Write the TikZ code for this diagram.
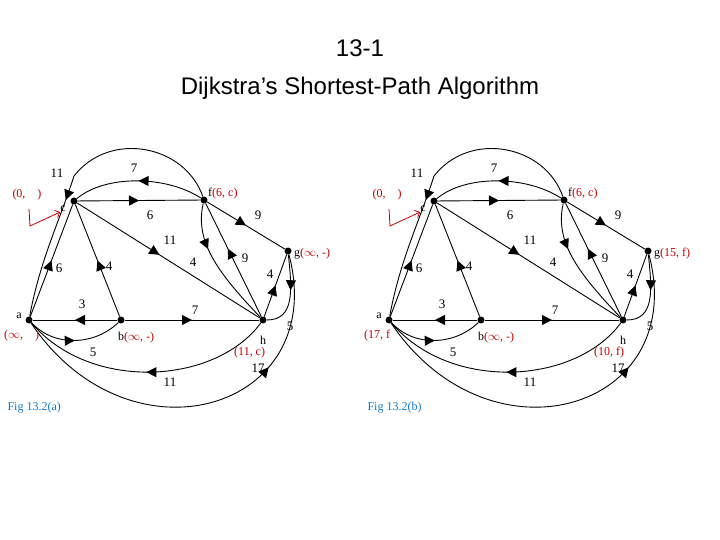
\documentclass[tikz,border=0pt]{standalone}
\usepackage{fontspec}
\setmainfont{Liberation Serif}
\newfontfamily\titlefont{Liberation Sans}
\usetikzlibrary{arrows.meta,decorations.markings}
\tikzset{
  vtx/.style={circle,fill=black,inner sep=0pt,minimum size=7pt},
  ed/.style={line width=0.9pt},
  marr/.style={ed,postaction={decorate},decoration={markings,mark=at position #1 with {\arrow{Triangle[length=10pt,width=10pt]}}}},
  marr/.default=0.5,
  wt/.style={font=\fontsize{13}{13}\selectfont,inner sep=0pt},
  rl/.style={font=\fontsize{12}{12}\selectfont,text=red!75!black,inner sep=0pt},
  bl/.style={font=\fontsize{12}{12}\selectfont,inner sep=0pt},
}
\newcommand\mygraph[6]{%
\begin{scope}[xshift=#2]
\node[vtx] (#1c) at (74,201) {};
\node[vtx] (#1f) at (204,200) {};
\node[vtx] (#1g) at (288,251) {};
\node[vtx] (#1a) at (29,320) {};
\node[vtx] (#1b) at (121,320) {};
\node[vtx] (#1h) at (263,320) {};
\draw[marr] (#1f) .. controls (165,175) and (105,175) .. (#1c);
\draw[marr] (#1c) -- (#1f);
\draw[marr=0.6] (#1f) .. controls (185,145) and (110,130) .. (74,176) .. controls (60,220) and (40,260) .. (#1a);
\draw[marr] (#1a) -- (#1c);
\draw[marr] (#1b) -- (#1c);
\draw[marr=0.45] (#1c) -- (#1h);
\draw[marr=0.35] (#1f) .. controls (195,240) and (215,270) .. (#1h);
\draw[marr=0.6] (#1h) -- (#1f);
\draw[marr] (#1f) -- (#1g);
\draw[marr] (#1h) -- (#1g);
\draw[marr=0.45] (#1g) .. controls (292,290) and (295,320) .. (#1h);
\draw[marr] (#1b) -- (#1a);
\draw[marr] (#1b) -- (#1h);
\draw[marr] (#1a) .. controls (55,348) and (95,345) .. (#1b);
\draw[marr] (#1h) .. controls (215,385) and (90,392) .. (#1a);
\draw[marr=0.7] (#1a) .. controls (130,470) and (330,410) .. (#1g);
\node[wt] (#1w1) at (57,173) {11};
\node[wt] (#1w2) at (134,168) {7};
\node[wt] (#1w3) at (150,215) {6};
\node[wt] (#1w4) at (258,215) {9};
\node[wt] (#1w5) at (170,240) {11};
\node[wt] (#1w6) at (193,262) {4};
\node[wt] (#1w7) at (245,258) {9};
\node[wt] (#1w8) at (59,268) {6};
\node[wt] (#1w9) at (109,266) {4};
\node[wt] (#1w10) at (270,274) {4};
\node[wt] (#1w11) at (82,304) {3};
\node[wt] (#1w12) at (195,310) {7};
\node[wt] (#1w13) at (290,326) {5};
\node[wt] (#1w14) at (93,352) {5};
\node[wt] (#1w15) at (170,382) {11};
\node[wt] (#1w16) at (258,368) {17};
\node[bl] (#1lc) at (63,209) {c};
\node[bl,anchor=west] (#1lf) at (208,194) {f\textcolor{red!75!black}{(6, c)}};
\node[bl,anchor=west] (#1lg) at (294,254) {g\textcolor{red!75!black}{#3}};
\node[bl] (#1la) at (19,316) {a};
\node[rl,anchor=west] (#1lad) at (4,336) {#4};
\node[bl,anchor=west] (#1lb) at (118,338) {b\textcolor{red!75!black}{(\ensuremath{\infty}, -)}};
\node[bl] (#1lh) at (263,340) {h};
\node[rl,anchor=west] (#1lhd) at (234,353) {#5};
\node[rl] (#1l0) at (27,195) {(0,\quad)};
\coordinate (#1ra) at (30,226);
\coordinate (#1rb) at (29,209);
\draw[red!75!black,line width=0.8pt,-{Straight Barb[length=4pt]}] (#1rb) -- (#1ra) -- (#1lc.south west);
\node[font=\fontsize{12}{12}\selectfont,text=cyan!60!blue,anchor=west] (#1cap) at (4,408) {Fig 13.2(#6)};
\end{scope}}
\begin{document}
\begin{tikzpicture}[x=1pt,y=-1pt]
\useasboundingbox (0,0) rectangle (720,540);
\node[font=\titlefont\fontsize{24}{24}\selectfont] (t1) at (360,48) {13-1};
\node[font=\titlefont\fontsize{24}{24}\selectfont] (t2) at (360,88) {Dijkstra’s Shortest-Path Algorithm};
\mygraph{L}{0}{(\ensuremath{\infty}, -)}{(\ensuremath{\infty},\quad)}{(11, c)}{a}
\mygraph{R}{360}{(15, f)}{(17, f}{(10, f)}{b}
\end{tikzpicture}
\end{document}
